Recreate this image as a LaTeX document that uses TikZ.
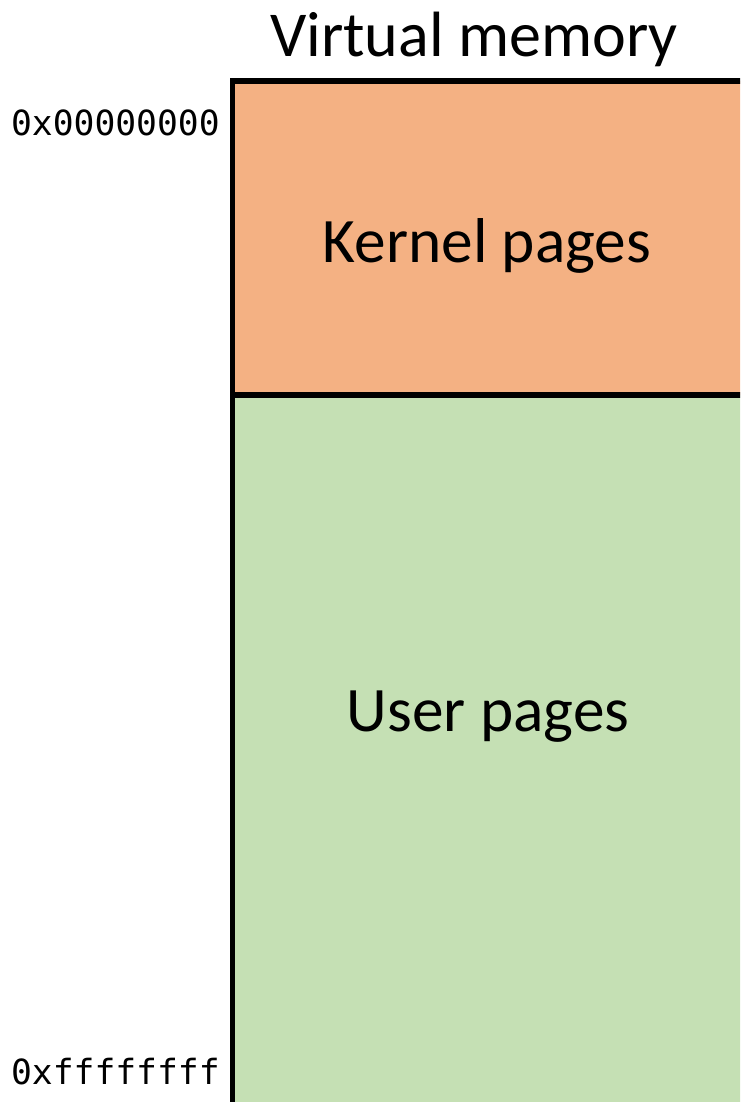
\documentclass[tikz,border=0pt]{standalone}
\usepackage{fontspec}
\setmainfont{Carlito}
\newfontfamily\addrfont{DejaVu Sans Mono}
\definecolor{kernelfill}{HTML}{F4B183}
\definecolor{userfill}{HTML}{C5E0B4}
\tikzset{
  region/.style={draw=black, line width=4.3pt},
  heading/.style={font=\fontsize{48}{52}\selectfont, inner sep=0pt},
  regionlabel/.style={font=\fontsize{47.5}{52}\selectfont, inner sep=0pt},
  addr/.style={font=\addrfont\fontsize{26}{29}\selectfont, inner sep=0pt, anchor=east}
}
\begin{document}
\begin{tikzpicture}[x=0.75pt, y=-0.75pt]
  \useasboundingbox (0,0) rectangle (740,1102);
  \clip (0,0) rectangle (740,1102);
  % memory regions
  \fill[kernelfill] (232.5,81) rectangle (800,395);
  \fill[userfill] (232.5,395) rectangle (800,1200);
  \draw[region] (800,81) -- (232.5,81) -- (232.5,1200);
  \draw[region] (232.5,395) -- (800,395);
  % labels
  \node[heading] (title) at (474,39) {Virtual memory};
  \node[regionlabel] (kernel) at (487,246) {Kernel pages};
  \node[regionlabel] (user) at (488,717) {User pages};
  \node[addr] (low) at (220,123) {0x00000000};
  \node[addr] (high) at (220,1072) {0xffffffff};
\end{tikzpicture}
\end{document}
